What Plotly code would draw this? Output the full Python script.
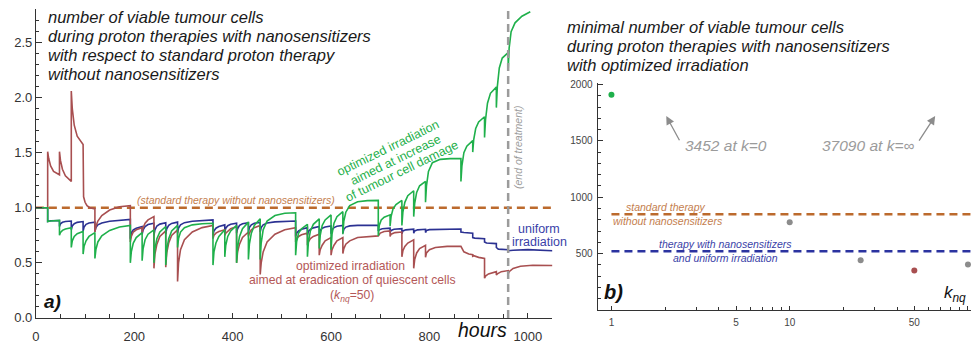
import plotly.graph_objects as go

# ---------------- data ----------------
blue_pts = [
    (0, 1.0), (24, 1.0), (24, 0.875), (30, 0.882), (48, 0.885),
    (48, 0.83), (50, 0.855), (54, 0.868), (60, 0.875), (72, 0.88),
    (72, 0.80), (74, 0.835), (78, 0.855), (84, 0.868), (96, 0.875),
    (96, 0.79), (98, 0.825), (102, 0.85), (108, 0.862), (120, 0.87),
    (120, 0.785), (122, 0.82), (126, 0.845), (134, 0.862), (150, 0.878), (170, 0.888), (192, 0.895),
    (192, 0.72), (194, 0.77), (198, 0.80), (204, 0.815), (216, 0.83),
    (216, 0.76), (218, 0.80), (222, 0.83), (228, 0.848), (240, 0.86),
    (240, 0.75), (242, 0.80), (246, 0.835), (252, 0.852), (264, 0.865),
    (264, 0.76), (266, 0.81), (270, 0.84), (276, 0.858), (288, 0.87),
    (288, 0.77), (290, 0.815), (294, 0.845), (302, 0.865), (318, 0.878), (338, 0.886), (360, 0.89),
    (360, 0.75), (362, 0.79), (366, 0.815), (372, 0.83), (384, 0.845),
    (384, 0.78), (386, 0.815), (390, 0.838), (396, 0.85), (408, 0.86),
    (408, 0.77), (410, 0.81), (414, 0.84), (420, 0.855), (432, 0.865),
    (432, 0.78), (434, 0.82), (438, 0.845), (444, 0.86), (456, 0.868),
    (456, 0.78), (458, 0.82), (462, 0.845), (470, 0.862), (486, 0.872), (506, 0.877), (528, 0.88),
    (528, 0.74), (530, 0.77), (534, 0.79), (540, 0.805), (552, 0.82),
    (552, 0.75), (554, 0.785), (558, 0.805), (564, 0.818), (576, 0.83),
    (576, 0.76), (578, 0.795), (582, 0.815), (588, 0.826), (600, 0.835),
    (600, 0.765), (602, 0.80), (606, 0.82), (612, 0.832), (624, 0.84),
    (624, 0.77), (626, 0.805), (630, 0.825), (638, 0.836), (654, 0.84), (674, 0.842), (696, 0.842),
    (696, 0.79), (698, 0.80), (704, 0.81), (720, 0.815),
    (720, 0.775), (722, 0.795), (728, 0.805), (744, 0.81),
    (744, 0.765), (746, 0.79), (752, 0.80), (768, 0.806),
    (768, 0.77), (770, 0.79), (776, 0.80), (792, 0.805),
    (792, 0.775), (794, 0.795), (800, 0.802), (820, 0.806), (864, 0.808),
    (864, 0.78), (870, 0.775), (888, 0.77),
    (888, 0.73), (892, 0.725), (912, 0.72),
    (912, 0.69), (916, 0.68), (936, 0.675),
    (936, 0.64), (940, 0.625), (960, 0.62),
    (960, 0.61), (970, 0.615), (1000, 0.62), (1050, 0.61),
]

green_pts = [
    (0, 1.0), (24, 1.0), (24, 0.875), (30, 0.88), (48, 0.885),
    (48, 0.75), (50, 0.775), (54, 0.795), (60, 0.808), (72, 0.82),
    (72, 0.64), (74, 0.70), (78, 0.74), (84, 0.765), (96, 0.785),
    (96, 0.58), (98, 0.65), (102, 0.70), (108, 0.74), (120, 0.775),
    (120, 0.54), (122, 0.62), (126, 0.69), (134, 0.745), (150, 0.795), (170, 0.825), (192, 0.84),
    (192, 0.50), (194, 0.60), (198, 0.68), (204, 0.73), (216, 0.775),
    (216, 0.52), (218, 0.63), (222, 0.71), (228, 0.76), (240, 0.80),
    (240, 0.50), (242, 0.63), (246, 0.72), (252, 0.78), (264, 0.83),
    (264, 0.48), (266, 0.62), (270, 0.72), (276, 0.79), (288, 0.84),
    (288, 0.64), (290, 0.72), (294, 0.78), (302, 0.82), (318, 0.845), (338, 0.855), (360, 0.86),
    (360, 0.48), (362, 0.60), (366, 0.68), (372, 0.74), (384, 0.80),
    (384, 0.555), (386, 0.66), (390, 0.74), (396, 0.79), (408, 0.84),
    (408, 0.50), (410, 0.64), (414, 0.74), (420, 0.81), (432, 0.87),
    (432, 0.53), (434, 0.67), (438, 0.77), (444, 0.84), (456, 0.90),
    (456, 0.53), (458, 0.68), (462, 0.80), (470, 0.88), (486, 0.93), (506, 0.95), (528, 0.955),
    (528, 0.57), (530, 0.69), (534, 0.77), (540, 0.81), (552, 0.85),
    (552, 0.555), (554, 0.69), (558, 0.79), (564, 0.85), (576, 0.90),
    (576, 0.63), (578, 0.75), (582, 0.84), (588, 0.89), (600, 0.935),
    (600, 0.62), (602, 0.76), (606, 0.86), (612, 0.92), (624, 0.965),
    (624, 0.76), (626, 0.88), (630, 0.96), (638, 1.02), (654, 1.055), (674, 1.065), (696, 1.067),
    (696, 0.745), (698, 0.84), (702, 0.89), (708, 0.915), (720, 0.936),
    (720, 0.833), (722, 0.92), (726, 0.99), (732, 1.03), (744, 1.067),
    (744, 0.84), (746, 0.96), (750, 1.05), (756, 1.11), (768, 1.155),
    (768, 0.92), (770, 1.04), (774, 1.14), (780, 1.20), (792, 1.24),
    (792, 1.05), (794, 1.20), (798, 1.33), (806, 1.41), (822, 1.44), (842, 1.447), (864, 1.447),
    (864, 1.24), (866, 1.38), (870, 1.50), (876, 1.56), (888, 1.61),
    (888, 1.506), (890, 1.62), (894, 1.72), (900, 1.78), (912, 1.827),
    (912, 1.638), (914, 1.80), (918, 1.95), (924, 2.04), (936, 2.096),
    (936, 1.91), (938, 2.10), (942, 2.27), (948, 2.36), (960, 2.41),
    (960, 2.25), (962, 2.45), (966, 2.60), (974, 2.68), (988, 2.74), (1005, 2.78),
]

red_pts = [
    (0, 1.0), (24, 1.0), (24, 1.51), (26, 1.45), (30, 1.38), (36, 1.33), (48, 1.30),
    (48, 1.51), (50, 1.43), (54, 1.35), (60, 1.29), (72, 1.24),
    (72, 2.06), (74, 1.90), (78, 1.75), (84, 1.65), (96, 1.575),
    (97, 1.10), (100, 1.05), (104, 1.02), (110, 1.0), (120, 0.99),
    (120, 0.78), (122, 0.83), (126, 0.88), (134, 0.93), (150, 0.98), (170, 1.01), (192, 1.02),
    (192, 0.69), (194, 0.74), (198, 0.78), (204, 0.80), (216, 0.82),
    (216, 0.775), (218, 0.82), (222, 0.86), (228, 0.89), (240, 0.92),
    (240, 0.45), (242, 0.58), (246, 0.67), (252, 0.74), (264, 0.79),
    (264, 0.46), (266, 0.59), (270, 0.68), (276, 0.75), (288, 0.80),
    (288, 0.33), (290, 0.50), (294, 0.62), (302, 0.71), (318, 0.78), (338, 0.82), (360, 0.84),
    (360, 0.72), (362, 0.75), (366, 0.77), (372, 0.785), (384, 0.80),
    (384, 0.75), (386, 0.77), (390, 0.79), (396, 0.81), (408, 0.83),
    (408, 0.50), (410, 0.60), (414, 0.67), (420, 0.73), (432, 0.78),
    (432, 0.74), (434, 0.77), (438, 0.80), (444, 0.82), (456, 0.84),
    (456, 0.395), (458, 0.50), (462, 0.60), (470, 0.69), (486, 0.76), (506, 0.80), (528, 0.82),
    (528, 0.69), (530, 0.72), (534, 0.74), (540, 0.755), (552, 0.77),
    (552, 0.66), (554, 0.69), (558, 0.72), (564, 0.74), (576, 0.76),
    (576, 0.57), (578, 0.62), (582, 0.66), (588, 0.70), (600, 0.73),
    (600, 0.57), (602, 0.62), (606, 0.66), (612, 0.70), (624, 0.73),
    (624, 0.585), (626, 0.63), (630, 0.67), (638, 0.70), (654, 0.73), (674, 0.74), (696, 0.745),
    (700, 0.77), (708, 0.785), (720, 0.79),
    (720, 0.74), (722, 0.76), (730, 0.775), (744, 0.78),
    (744, 0.555), (746, 0.61), (750, 0.65), (756, 0.68), (768, 0.71),
    (768, 0.45), (770, 0.53), (774, 0.59), (780, 0.63), (792, 0.66),
    (792, 0.55), (794, 0.59), (800, 0.62), (812, 0.64), (836, 0.65), (864, 0.65),
    (870, 0.60), (880, 0.58), (888, 0.575),
    (888, 0.56), (890, 0.565), (900, 0.55), (912, 0.54),
    (912, 0.36), (914, 0.38), (920, 0.40), (936, 0.42),
    (936, 0.39), (938, 0.40), (946, 0.42), (960, 0.43),
    (960, 0.40), (962, 0.42), (970, 0.45), (985, 0.47), (1010, 0.478), (1050, 0.476),
]

standard_ratio = 1.0
end_of_treatment = 960

k_values = [1, 10, 25, 50, 100]
min_cells = [1910, 778, 441, 349, 403]
standard_min = 849
uniform_min = 520

left_xticks = [0, 200, 400, 600, 800, 1000]
left_yticks = [0.0, 0.5, 1.0, 1.5, 2.0, 2.5]
right_xticks = [1, 5, 10, 50, 100]
right_yticks = [500, 1000, 1500, 2000]

# ---------------- style ----------------
W, H = 971, 352
FONT = "Liberation Sans, Arial, sans-serif"
BLUE = "#2B3192"
GREEN = "#1FB04B"
RED = "#A84F50"
ORANGE = "#BC6A2D"
ORANGE_T = "#C47E4E"
GRAY = "#9B9B9B"
RED_T = "#B45858"
BLUE_T = "#3A3FA8"
AX = "#333333"


def P(px, py):
    return px / W, 1 - py / H


def xs(pts):
    return [p[0] for p in pts]


def ys(pts):
    return [p[1] for p in pts]


fig = go.Figure()

# left panel
fig.add_trace(go.Scatter(x=[0, 1050], y=[standard_ratio, standard_ratio], mode="lines",
                         line=dict(color=ORANGE, width=2.5, dash="8px,5px"),
                         xaxis="x", yaxis="y", hoverinfo="skip"))
fig.add_trace(go.Scatter(x=xs(blue_pts), y=ys(blue_pts), mode="lines",
                         line=dict(color=BLUE, width=1.6), xaxis="x", yaxis="y"))
fig.add_trace(go.Scatter(x=xs(red_pts), y=ys(red_pts), mode="lines",
                         line=dict(color=RED, width=1.6), xaxis="x", yaxis="y"))
fig.add_trace(go.Scatter(x=xs(green_pts), y=ys(green_pts), mode="lines",
                         line=dict(color=GREEN, width=1.6), xaxis="x", yaxis="y"))
fig.add_trace(go.Scatter(x=[end_of_treatment, end_of_treatment], y=[0, 2.81], mode="lines",
                         line=dict(color=GRAY, width=2.5, dash="8px,5px"),
                         xaxis="x", yaxis="y", hoverinfo="skip"))

# right panel
fig.add_trace(go.Scatter(x=[1, 120], y=[standard_min, standard_min], mode="lines",
                         line=dict(color=ORANGE, width=2.5, dash="8px,5px"),
                         xaxis="x2", yaxis="y2"))
fig.add_trace(go.Scatter(x=[1, 120], y=[uniform_min, uniform_min], mode="lines",
                         line=dict(color="#2B33A0", width=2.5, dash="8px,5px"),
                         xaxis="x2", yaxis="y2"))
fig.add_trace(go.Scatter(x=k_values, y=min_cells, mode="markers",
                         marker=dict(size=6, color=[GREEN, "#8C8C8C", "#8C8C8C", RED, "#8C8C8C"]),
                         xaxis="x2", yaxis="y2"))

axis_common = dict(showline=True, linecolor=AX, linewidth=1, ticks="inside", tickcolor=AX,
                   showgrid=False, zeroline=False, mirror=False)

fig.update_layout(
    width=W, height=H, margin=dict(l=0, r=0, t=0, b=0),
    paper_bgcolor="white", plot_bgcolor="white", showlegend=False,
    font=dict(family=FONT, color=AX),
    xaxis=dict(axis_common, domain=[32 / W, (32 + 1050 * 0.494) / W], range=[0, 1050],
               tickvals=left_xticks, ticklen=5, tickfont=dict(size=13, color=AX),
               ticklabelstandoff=6,
               minor=dict(dtick=50, ticks="inside", ticklen=4, tickcolor=AX),
               anchor="y"),
    yaxis=dict(axis_common, domain=[(H - 325) / H, (H - 5) / H], range=[0, 2.807],
               tickvals=left_yticks, ticktext=["0.0", "0.5", "1.0", "1.5", "2.0", "2.5"],
               ticklen=6, tickfont=dict(size=13, color=AX),
               minor=dict(dtick=0.1, ticks="inside", ticklen=3.5, tickcolor=AX),
               anchor="x"),
    xaxis2=dict(axis_common, type="log", domain=[596 / W, 1.0], range=[-0.078, 2.017],
                tickvals=right_xticks, ticktext=["1", "5", "10", "50", "100"], ticklen=4,
                tickfont=dict(size=10, color="#444"), ticklabelstandoff=3,
                minor=dict(tickvals=[2, 3, 4, 6, 7, 8, 9, 20, 30, 40, 60, 70, 80, 90],
                           ticks="inside", ticklen=3, tickcolor=AX),
                anchor="y2"),
    yaxis2=dict(axis_common, domain=[(H - 316.7) / H, (H - 82.2) / H], range=[0, 2010],
                tickvals=right_yticks, ticklen=5, tickfont=dict(size=10, color="#444"),
                ticklabelstandoff=2,
                minor=dict(dtick=100, ticks="inside", ticklen=3, tickcolor=AX),
                anchor="x2"),
)

ann = []


def text(px, py, s, size, color, xanchor="center", angle=0):
    x, y = P(px, py)
    ann.append(dict(x=x, y=y, xref="paper", yref="paper", text=s, showarrow=False,
                    xanchor=xanchor, yanchor="middle", textangle=angle,
                    font=dict(family=FONT, size=size, color=color)))


# left title
for i, line in enumerate(["number of viable tumour cells",
                          "during proton therapies with nanosensitizers",
                          "with respect to standard proton therapy",
                          "without nanosensitizers"]):
    text(42, 13.3 + i * 19.8, "<i>" + line + "</i>", 16.5, "#1a1a1a", xanchor="left")

# right title
for i, line in enumerate(["minimal number of viable tumour cells",
                          "during proton therapies with nanosensitizers",
                          "with optimized irradiation"]):
    text(563, 23.3 + i * 19.8, "<i>" + line + "</i>", 16.5, "#1a1a1a", xanchor="left")

text(232.5, 202.7, "<i>(standard therapy without nanosensitizers)</i>", 10.5, ORANGE_T)
text(516.7, 148.5, "<i>(end of treatment)</i>", 10.5, GRAY, angle=-90)

# green rotated label
for line, cx, cy in [("optimized irradiation", 386, 149),
                     ("aimed at increase", 393, 161),
                     ("of tumour cell damage", 400, 173)]:
    text(cx, cy, line, 12.5, GREEN, angle=-26)

# blue label
text(537, 233, "uniform", 12.5, BLUE_T)
text(538, 246, "irradiation", 12.5, BLUE_T)

# red label
text(348, 271, "optimized irradiation", 12.2, RED_T)
text(349.5, 286, "aimed at eradication of quiescent cells", 12.2, RED_T)
text(349.5, 302, "(<i>k<sub>nq</sub></i>=50)", 12.2, RED_T)

text(48.7, 307.5, "<b><i>a)</i></b>", 19, "#111")
text(480.5, 338, "<i>hours</i>", 19.5, "#111")

# right panel labels
text(665, 210, "<i>standard therapy</i>", 10.5, ORANGE_T)
text(666.3, 224.3, "<i>without nanosensitizers</i>", 10.5, ORANGE_T)
text(724.3, 248.3, "<i>therapy with nanosensitizers</i>", 10.5, BLUE_T)
text(724.3, 263.3, "<i>and uniform irradiation</i>", 10.5, BLUE_T)
text(611.7, 298.3, "<b><i>b)</i></b>", 20, "#111")
text(955, 300, "<i>k<sub>nq</sub></i>", 17, "#111")

text(724.8, 146.7, "<i>3452 at k=0</i>", 15.5, GRAY)
text(868.5, 146.7, "<i>37090 at k=∞</i>", 15.5, GRAY)

for tip, tail in [((665, 116), (679, 141.7)), ((935, 116), (918, 142))]:
    x, y = P(*tip)
    ann.append(dict(x=x, y=y, xref="paper", yref="paper", text="", showarrow=True,
                    ax=tail[0] - tip[0], ay=tail[1] - tip[1], axref="pixel", ayref="pixel",
                    arrowhead=2, arrowsize=1.3, arrowwidth=1.3, arrowcolor="#8C8C8C"))

fig.update_layout(annotations=ann)
fig.write_html("out.html")
